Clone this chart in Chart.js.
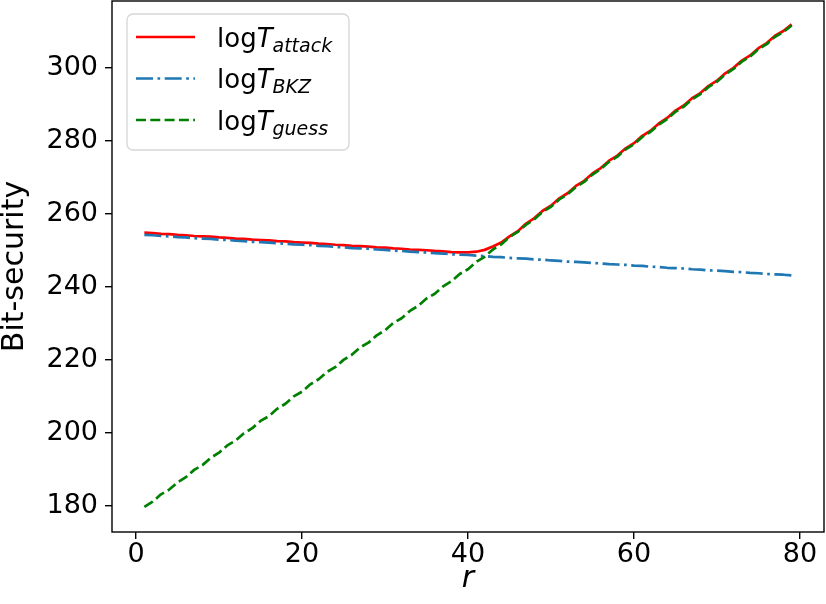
<!DOCTYPE html>
<html>
<head>
<meta charset="utf-8">
<script src="https://cdn.jsdelivr.net/npm/chart.js@4/dist/chart.umd.min.js"></script>
<style>
  html, body { margin: 0; padding: 0; background: #fff; }
  canvas { display: block; }
</style>
</head>
<body>
<canvas id="grafico" width="826" height="604"></canvas>
<script>
// r = 1..79
var r = [];
for (var i = 1; i <= 79; i++) r.push(i);

var tAttack = [254.8, 254.7, 254.5, 254.4, 254.2, 254.1, 253.9, 253.8, 253.7, 253.5,
               253.4, 253.2, 253.1, 252.9, 252.8, 252.7, 252.5, 252.4, 252.2, 252.1,
               252.0, 251.8, 251.7, 251.5, 251.4, 251.2, 251.1, 251.0, 250.8, 250.7,
               250.5, 250.4, 250.2, 250.1, 250.0, 249.8, 249.7, 249.5, 249.4, 249.4,
               249.6, 250.1, 251.0, 252.1, 253.8, 255.2, 257.3, 258.8, 260.8, 262.2,
               264.2, 265.6, 267.6, 269.0, 271.0, 272.5, 274.5, 275.9, 277.9, 279.3,
               281.3, 282.7, 284.7, 286.2, 288.2, 289.6, 291.6, 293.0, 295.0, 296.4,
               298.4, 299.9, 301.9, 303.3, 305.3, 306.7, 308.7, 310.0, 311.8];

var tBKZ = [254.2, 254.1, 253.9, 253.8, 253.6, 253.5, 253.3, 253.2, 253.1, 252.9,
            252.8, 252.6, 252.5, 252.3, 252.2, 252.1, 251.9, 251.8, 251.6, 251.5,
            251.4, 251.2, 251.1, 250.9, 250.8, 250.6, 250.5, 250.4, 250.2, 250.1,
            249.9, 249.8, 249.6, 249.5, 249.4, 249.2, 249.1, 248.9, 248.8, 248.7,
            248.5, 248.4, 248.2, 248.1, 247.9, 247.8, 247.7, 247.5, 247.4, 247.2,
            247.1, 246.9, 246.8, 246.7, 246.5, 246.4, 246.2, 246.1, 246.0, 245.8,
            245.7, 245.5, 245.4, 245.2, 245.1, 245.0, 244.8, 244.7, 244.5, 244.4,
            244.3, 244.1, 244.0, 243.8, 243.7, 243.5, 243.4, 243.3, 243.1];

var tGuess = [179.8, 181.2, 183.2, 184.5, 186.5, 187.9, 189.9, 191.2, 193.2, 194.6,
              196.6, 197.9, 199.9, 201.3, 203.3, 204.6, 206.6, 208.0, 210.0, 211.3,
              213.3, 214.7, 216.7, 218.0, 220.0, 221.4, 223.4, 224.7, 226.7, 228.1,
              230.1, 231.4, 233.4, 234.8, 236.8, 238.1, 240.1, 241.5, 243.5, 244.8,
              246.8, 248.2, 250.2, 251.6, 253.6, 255.0, 257.0, 258.5, 260.5, 261.9,
              263.9, 265.3, 267.3, 268.7, 270.7, 272.2, 274.2, 275.6, 277.6, 279.0,
              281.0, 282.4, 284.4, 285.9, 287.9, 289.3, 291.3, 292.7, 294.7, 296.1,
              298.1, 299.6, 301.6, 303.0, 305.0, 306.4, 308.4, 309.7, 311.5];

var xTicks = [0, 20, 40, 60, 80];
var yTicks = [180, 200, 220, 240, 260, 280, 300];

var seriesNames = ['attack', 'BKZ', 'guess'];
var seriesColors = ['#ff0000', '#1f77b4', '#008000'];
var seriesDash = [[], [17, 4.5, 2.7, 4.5], [10, 4.3]];

function puntos(arr) {
    return r.map(function (v, k) { return { x: v, y: arr[k] }; });
}

var fuente = 'DejaVu Sans';

function sinMargen(s) {
    s.paddingTop = 0; s.paddingBottom = 0; s.paddingLeft = 0; s.paddingRight = 0;
}

// marco completo y leyenda dentro del area
var marcoYLeyenda = {
    id: 'marcoYLeyenda',
    afterDatasetsDraw: function (chart) {
        var ctx = chart.ctx, a = chart.chartArea;
        ctx.save();
        ctx.strokeStyle = '#000';
        ctx.lineWidth = 1.4;
        ctx.strokeRect(a.left, a.top, a.right - a.left, a.bottom - a.top);

        // caja de la leyenda
        var bx = 127, by = 14, bw = 222, bh = 136, rad = 6;
        ctx.beginPath();
        ctx.moveTo(bx + rad, by);
        ctx.arcTo(bx + bw, by, bx + bw, by + bh, rad);
        ctx.arcTo(bx + bw, by + bh, bx, by + bh, rad);
        ctx.arcTo(bx, by + bh, bx, by, rad);
        ctx.arcTo(bx, by, bx + bw, by, rad);
        ctx.closePath();
        ctx.fillStyle = 'rgba(255,255,255,0.8)';
        ctx.fill();
        ctx.strokeStyle = 'rgba(204,204,204,0.8)';
        ctx.lineWidth = 1.3;
        ctx.stroke();

        for (var k = 0; k < seriesNames.length; k++) {
            var y = 37 + k * 41.5;
            ctx.beginPath();
            ctx.setLineDash(seriesDash[k]);
            ctx.strokeStyle = seriesColors[k];
            ctx.lineWidth = 2.7;
            ctx.moveTo(136, y);
            ctx.lineTo(195, y);
            ctx.stroke();
            ctx.setLineDash([]);

            ctx.fillStyle = '#000';
            ctx.textBaseline = 'alphabetic';
            ctx.textAlign = 'left';
            var x = 217, base = y + 9.5;
            ctx.font = '26px "' + fuente + '"';
            ctx.fillText('log', x, base);
            x += ctx.measureText('log').width;
            ctx.font = 'italic 26px "' + fuente + '"';
            ctx.fillText('T', x, base);
            x += ctx.measureText('T').width;
            ctx.font = 'italic 19px "' + fuente + '"';
            ctx.fillText(seriesNames[k], x, base + 5);
        }
        ctx.restore();
    }
};

var ctx = document.getElementById('grafico').getContext('2d');
var myChart = new Chart(ctx, {
    type: 'line',
    data: {
        datasets: [{
            label: 'logT_attack',
            data: puntos(tAttack),
            borderColor: seriesColors[0],
            borderWidth: 2.7,
            order: 3
        }, {
            label: 'logT_BKZ',
            data: puntos(tBKZ),
            borderColor: seriesColors[1],
            borderWidth: 2.7,
            borderDash: seriesDash[1],
            order: 2
        }, {
            label: 'logT_guess',
            data: puntos(tGuess),
            borderColor: seriesColors[2],
            borderWidth: 2.7,
            borderDash: seriesDash[2],
            order: 1
        }]
    },
    options: {
        responsive: false,
        animation: false,
        devicePixelRatio: 1,
        layout: { padding: { top: 1, right: 2, left: 0, bottom: 0 } },
        elements: {
            point: { radius: 0 },
            line: { tension: 0, fill: false, borderJoinStyle: 'round' }
        },
        plugins: {
            legend: { display: false },
            tooltip: { enabled: false }
        },
        scales: {
            x: {
                type: 'linear',
                min: -2.9,
                max: 82.9,
                afterBuildTicks: function (s) { s.ticks = xTicks.map(function (v) { return { value: v }; }); },
                afterFit: function (s) { s.height = 72; sinMargen(s); },
                grid: { display: true, drawOnChartArea: false, drawTicks: true, tickLength: 7, color: '#000', lineWidth: 1.4 },
                border: { display: false },
                ticks: { color: '#000', padding: 0, maxRotation: 0, font: { family: fuente, size: 27 } },
                title: { display: true, text: 'r', color: '#000', padding: { top: 0, bottom: 7 },
                         font: { family: fuente, size: 30, style: 'italic', lineHeight: 1.2 } }
            },
            y: {
                type: 'linear',
                min: 172.9,
                max: 318.2,
                afterBuildTicks: function (s) { s.ticks = yTicks.map(function (v) { return { value: v }; }); },
                afterFit: function (s) { s.width = 112; sinMargen(s); },
                grid: { display: true, drawOnChartArea: false, drawTicks: true, tickLength: 7, color: '#000', lineWidth: 1.4 },
                border: { display: false },
                ticks: { color: '#000', padding: 7, font: { family: fuente, size: 27 } },
                title: { display: true, text: 'Bit-security', color: '#000', padding: 0,
                         font: { family: fuente, size: 30, lineHeight: 1.0 } }
            }
        }
    },
    plugins: [marcoYLeyenda]
});
</script>
</body>
</html>
